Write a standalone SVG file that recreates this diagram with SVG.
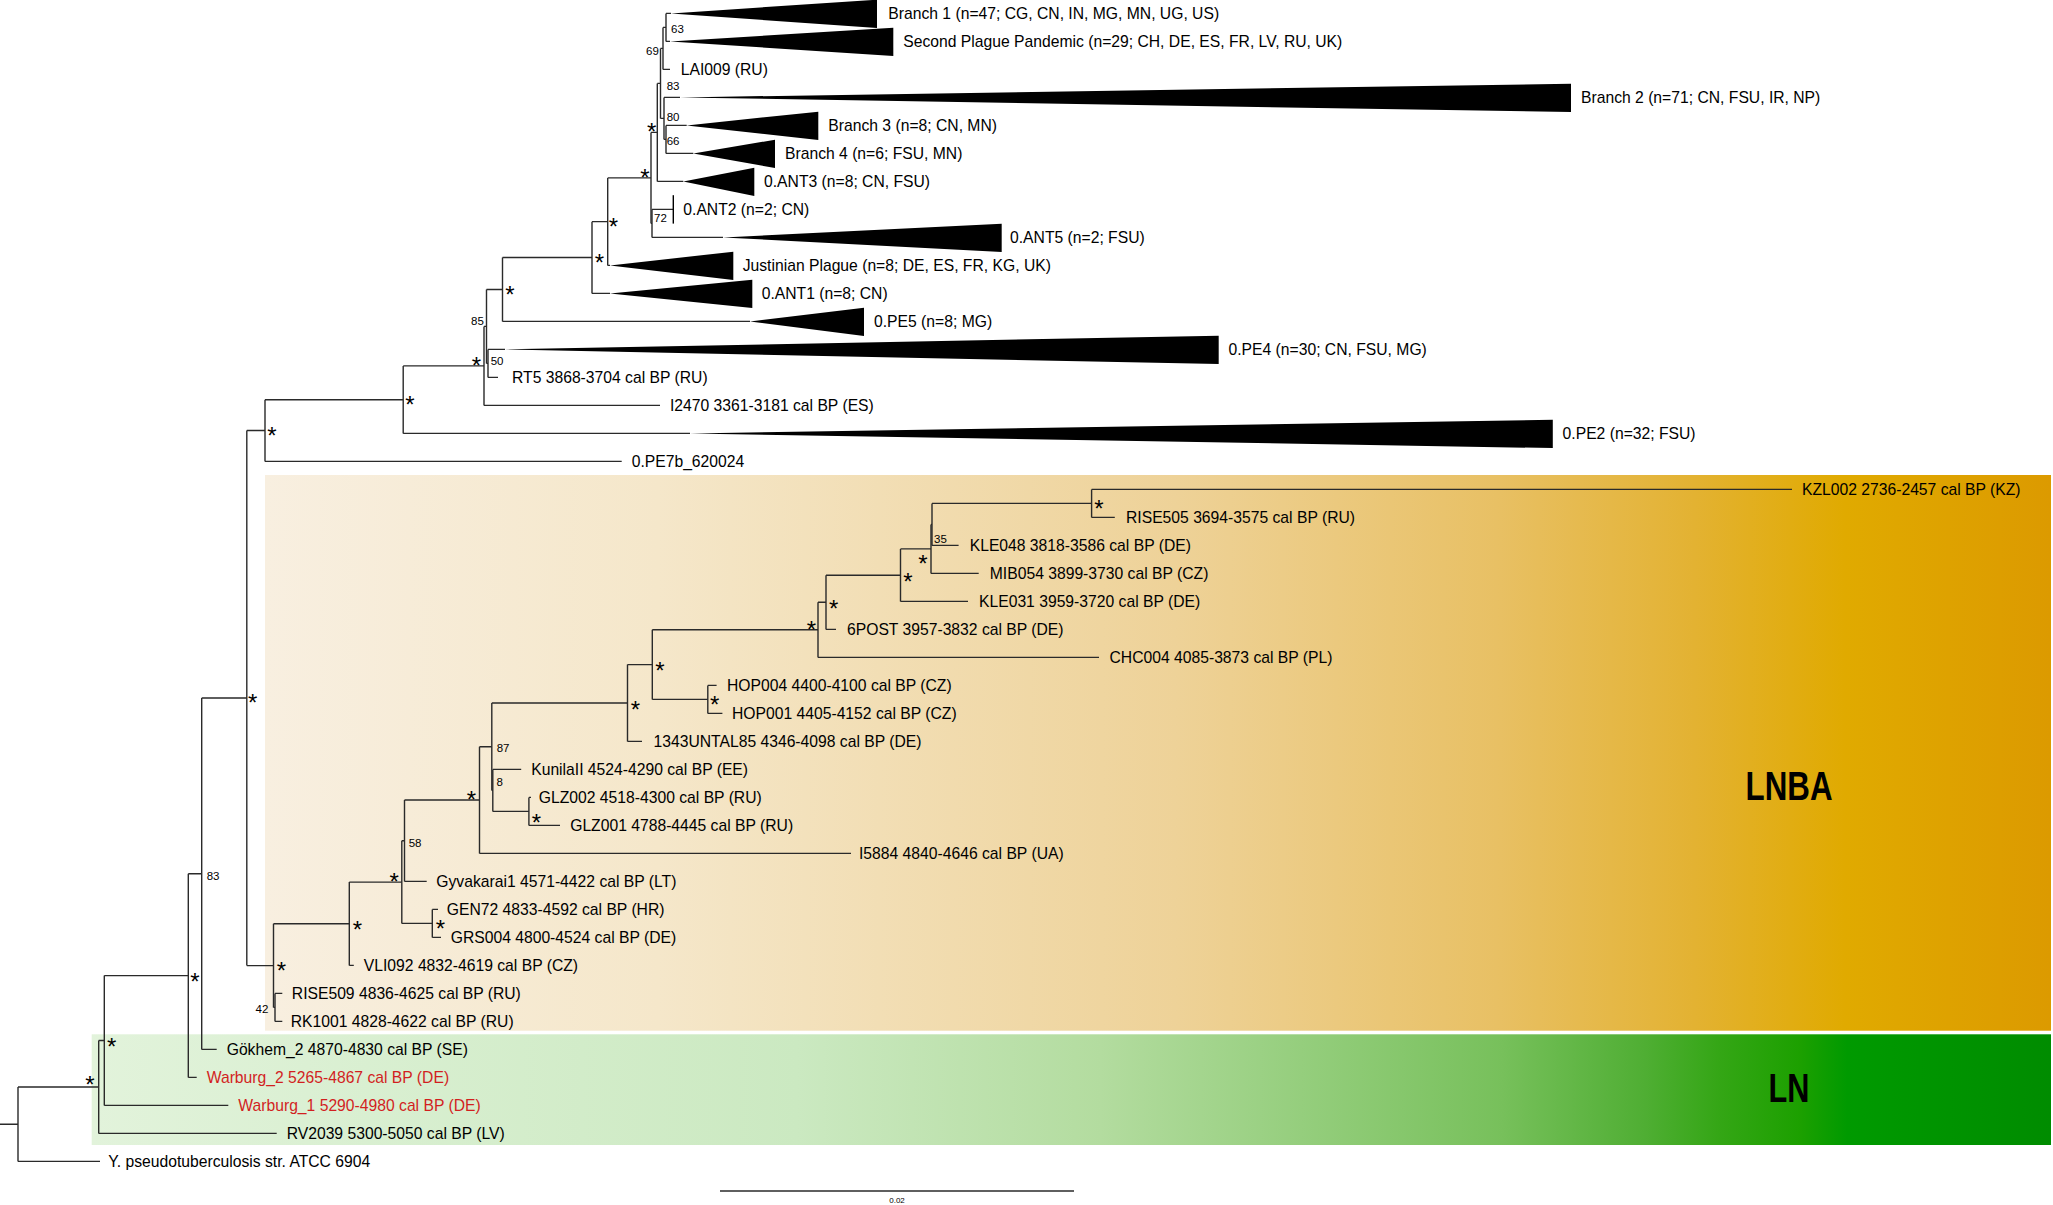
<svg xmlns="http://www.w3.org/2000/svg" width="2053" height="1205" viewBox="0 0 2053 1205">
<defs>
<linearGradient id="gLNBA" x1="0" y1="0" x2="1" y2="0">
<stop offset="0" stop-color="#f8efe0"/>
<stop offset="0.22" stop-color="#f5e7ca"/>
<stop offset="0.51" stop-color="#eed298"/>
<stop offset="0.69" stop-color="#e8c064"/>
<stop offset="0.80" stop-color="#e3b232"/>
<stop offset="0.885" stop-color="#e0aa00"/>
<stop offset="1" stop-color="#dc9a00"/>
</linearGradient>
<linearGradient id="gLN" x1="0" y1="0" x2="1" y2="0">
<stop offset="0" stop-color="#e2f3db"/>
<stop offset="0.36" stop-color="#cbe9c1"/>
<stop offset="0.515" stop-color="#b3dc9f"/>
<stop offset="0.72" stop-color="#77c05b"/>
<stop offset="0.793" stop-color="#4fae33"/>
<stop offset="0.831" stop-color="#34a615"/>
<stop offset="0.872" stop-color="#1ca000"/>
<stop offset="0.896" stop-color="#009a00"/>
<stop offset="1" stop-color="#008c00"/>
</linearGradient>
<style>
text{font-family:"Liberation Sans",Arial,Helvetica,sans-serif;fill:#000}
.t{font-size:15.7px}
.r{fill:#d21f1f}
.n{font-size:11.5px}
.s{font-size:24px;text-anchor:middle}
.b{font-size:40px;font-weight:bold;text-anchor:middle}
.tri{fill:#000;stroke:none}
#connectors path{fill:none;stroke:#2a2a2a;stroke-width:1.4}
</style>
</defs>
<rect x="0" y="0" width="2053" height="1205" fill="#fff"/>
<g id="clade-LNBA">
<rect x="265" y="475" width="1786" height="555.7" fill="url(#gLNBA)"/>
<text class="b" x="1789" y="800" textLength="87" lengthAdjust="spacingAndGlyphs">LNBA</text>
</g>
<g id="clade-LN">
<rect x="91.7" y="1034.3" width="1959.3" height="110.7" fill="url(#gLN)"/>
<text class="b" x="1789" y="1101.7" textLength="41" lengthAdjust="spacingAndGlyphs">LN</text>
</g>

<g id="connectors">
<path d="M0 1124.2H18M18 1087V1161.4M18 1087H98.7M18 1161.4H100"/>
<path d="M98.7 1040.5V1133.4M98.7 1040.5H104.3M98.7 1133.4H276.7"/>
<path d="M104.3 975.6V1105.4M104.3 975.6H188.3M104.3 1105.4H228.3"/>
<path d="M188.3 873.8V1077.4M188.3 873.8H201.7M188.3 1077.4H196.7"/>
<path d="M201.7 698V1049.4M201.7 698H246.8M201.7 1049.4H216.7"/>
<path d="M246.8 430.5V965.6M246.8 430.5H265M246.8 965.6H273.5"/>
<path d="M265 399.7V461.4M265 399.7H403.2M265 461.4H621.7"/>
<path d="M403.2 365.9V433.4M403.2 365.9H484M403.2 433.4H690"/>
<path d="M484 326.4V405.4M484 326.4H486.5M484 405.4H660"/>
<path d="M486.5 289.5V363.4M486.5 289.5H502.5M486.5 363.4H488"/>
<path d="M488 349.4V377.4M488 349.4H505M488 377.4H498"/>
<path d="M502.5 257.5V321.4M502.5 257.5H592M502.5 321.4H750"/>
<path d="M592 221.65V293.4M592 221.65H607.7M592 293.4H610"/>
<path d="M607.7 177.9V265.4M607.7 177.9H651M607.7 265.4H610"/>
<path d="M651 132.4V223.4M651 132.4H657.3M651 223.4H652"/>
<path d="M652 209.4V237.4M652 209.4H673.3M652 237.4H723"/>
<path d="M657.3 83.4V181.4M657.3 83.4H660.5M657.3 181.4H683.3"/>
<path d="M660.5 48.4V118.4M660.5 48.4H663M660.5 118.4H664"/>
<path d="M663 27.4V69.4M663 27.4H666M663 69.4H670"/>
<path d="M666 13.4V41.4M666 13.4H671M666 41.4H670"/>
<path d="M664 97.4V139.4M664 97.4H680M664 139.4H666"/>
<path d="M666 125.4V153.4M666 125.4H686.7M666 153.4H693.3"/>
<path d="M273.5 923.7V1007.4M273.5 923.7H349.3M273.5 1007.4H275"/>
<path d="M275 993.4V1021.4M275 993.4H282.3M275 1021.4H282.3"/>
<path d="M349.3 882.1V965.4M349.3 882.1H401.8M349.3 965.4H353.8"/>
<path d="M401.8 840.7V923.4M401.8 840.7H404.5M401.8 923.4H432.3"/>
<path d="M432.3 909.4V937.4M432.3 909.4H438M432.3 937.4H441"/>
<path d="M404.5 800V881.4M404.5 800H479.5M404.5 881.4H426.7"/>
<path d="M479.5 746.7V853.4M479.5 746.7H491.8M479.5 853.4H851"/>
<path d="M491.8 703V790.4M491.8 703H627.5M491.8 790.4H492.8"/>
<path d="M492.8 769.4V811.4M492.8 769.4H521.2M492.8 811.4H528.9"/>
<path d="M528.9 797.4V825.4M528.9 797.4H531M528.9 825.4H560"/>
<path d="M627.5 664.6V741.4M627.5 664.6H652.3M627.5 741.4H642"/>
<path d="M652.3 629.8V699.4M652.3 629.8H818M652.3 699.4H707.8"/>
<path d="M707.8 685.4V713.4M707.8 685.4H716.6M707.8 713.4H722.4"/>
<path d="M818 602.3V657.4M818 602.3H826M818 657.4H1099"/>
<path d="M826 575.2V629.4M826 575.2H900.5M826 629.4H836"/>
<path d="M900.5 548.9V601.4M900.5 548.9H931M900.5 601.4H968"/>
<path d="M931 524.4V573.4M931 524.4H932M931 573.4H978.7"/>
<path d="M932 503.4V545.4M932 503.4H1091.6M932 545.4H958.6"/>
<path d="M1091.6 489.4V517.4M1091.6 489.4H1792M1091.6 517.4H1114.8"/>
<path d="M720 1191H1074"/>
</g>

<g id="n-branch1"><polygon class="tri" points="671,13.4 877,-0.3 877,28.1"/><text class="t" x="888.3" y="19.1">Branch 1 (n=47; CG, CN, IN, MG, MN, UG, US)</text></g>
<g id="n-spp"><polygon class="tri" points="670,41.4 893.3,27.7 893.3,56.1"/><text class="t" x="903.3" y="47.1">Second Plague Pandemic (n=29; CH, DE, ES, FR, LV, RU, UK)</text></g>
<g id="n-LAI009"><text class="t" x="680.7" y="75.1">LAI009 (RU)</text></g>
<g id="n-branch2"><polygon class="tri" points="680,97.4 1571,83.7 1571,112.1"/><text class="t" x="1581" y="103.1">Branch 2 (n=71; CN, FSU, IR, NP)</text></g>
<g id="n-branch3"><polygon class="tri" points="686.7,125.4 818.3,111.7 818.3,140.1"/><text class="t" x="828.3" y="131.1">Branch 3 (n=8; CN, MN)</text></g>
<g id="n-branch4"><polygon class="tri" points="693.3,153.4 775,139.7 775,168.1"/><text class="t" x="785" y="159.1">Branch 4 (n=6; FSU, MN)</text></g>
<g id="n-ANT3"><polygon class="tri" points="683.3,181.4 754.3,167.7 754.3,196.1"/><text class="t" x="764" y="187.1">0.ANT3 (n=8; CN, FSU)</text></g>
<g id="n-ANT2"><rect class="tri" x="672.6" y="195.2" width="1.4" height="28.4"/><text class="t" x="683.3" y="215.1">0.ANT2 (n=2; CN)</text></g>
<g id="n-ANT5"><polygon class="tri" points="723,237.4 1001.7,223.7 1001.7,252.1"/><text class="t" x="1010" y="243.1">0.ANT5 (n=2; FSU)</text></g>
<g id="n-justinian"><polygon class="tri" points="610,265.4 733.3,251.7 733.3,280.1"/><text class="t" x="742.7" y="271.1">Justinian Plague (n=8; DE, ES, FR, KG, UK)</text></g>
<g id="n-ANT1"><polygon class="tri" points="610,293.4 752.3,279.7 752.3,308.1"/><text class="t" x="761.7" y="299.1">0.ANT1 (n=8; CN)</text></g>
<g id="n-PE5"><polygon class="tri" points="750,321.4 864,307.7 864,336.1"/><text class="t" x="874" y="327.1">0.PE5 (n=8; MG)</text></g>
<g id="n-PE4"><polygon class="tri" points="505,349.4 1218.7,335.7 1218.7,364.1"/><text class="t" x="1228.5" y="355.1">0.PE4 (n=30; CN, FSU, MG)</text></g>
<g id="n-RT5"><text class="t" x="512" y="383.1">RT5 3868-3704 cal BP (RU)</text></g>
<g id="n-I2470"><text class="t" x="670" y="411.1">I2470 3361-3181 cal BP (ES)</text></g>
<g id="n-PE2"><polygon class="tri" points="690,433.4 1552.8,419.7 1552.8,448.1"/><text class="t" x="1562.6" y="439.1">0.PE2 (n=32; FSU)</text></g>
<g id="n-PE7b"><text class="t" x="631.7" y="467.1">0.PE7b_620024</text></g>
<g id="n-KZL002"><text class="t" x="1802" y="495.1">KZL002 2736-2457 cal BP (KZ)</text></g>
<g id="n-RISE505"><text class="t" x="1126" y="523.1">RISE505 3694-3575 cal BP (RU)</text></g>
<g id="n-KLE048"><text class="t" x="969.7" y="551.1">KLE048 3818-3586 cal BP (DE)</text></g>
<g id="n-MIB054"><text class="t" x="989.8" y="579.1">MIB054 3899-3730 cal BP (CZ)</text></g>
<g id="n-KLE031"><text class="t" x="979" y="607.1">KLE031 3959-3720 cal BP (DE)</text></g>
<g id="n-6POST"><text class="t" x="847" y="635.1">6POST 3957-3832 cal BP (DE)</text></g>
<g id="n-CHC004"><text class="t" x="1109.5" y="663.1">CHC004 4085-3873 cal BP (PL)</text></g>
<g id="n-HOP004"><text class="t" x="727" y="691.1">HOP004 4400-4100 cal BP (CZ)</text></g>
<g id="n-HOP001"><text class="t" x="732" y="719.1">HOP001 4405-4152 cal BP (CZ)</text></g>
<g id="n-1343UNTAL85"><text class="t" x="653.5" y="747.1">1343UNTAL85 4346-4098 cal BP (DE)</text></g>
<g id="n-KunilaII"><text class="t" x="531.2" y="775.1">KunilaII 4524-4290 cal BP (EE)</text></g>
<g id="n-GLZ002"><text class="t" x="538.8" y="803.1">GLZ002 4518-4300 cal BP (RU)</text></g>
<g id="n-GLZ001"><text class="t" x="570.2" y="831.1">GLZ001 4788-4445 cal BP (RU)</text></g>
<g id="n-I5884"><text class="t" x="859" y="859.1">I5884 4840-4646 cal BP (UA)</text></g>
<g id="n-Gyvakarai1"><text class="t" x="436.3" y="887.1">Gyvakarai1 4571-4422 cal BP (LT)</text></g>
<g id="n-GEN72"><text class="t" x="446.8" y="915.1">GEN72 4833-4592 cal BP (HR)</text></g>
<g id="n-GRS004"><text class="t" x="450.7" y="943.1">GRS004 4800-4524 cal BP (DE)</text></g>
<g id="n-VLI092"><text class="t" x="363.8" y="971.1">VLI092 4832-4619 cal BP (CZ)</text></g>
<g id="n-RISE509"><text class="t" x="291.8" y="999.1">RISE509 4836-4625 cal BP (RU)</text></g>
<g id="n-RK1001"><text class="t" x="290.7" y="1027.1">RK1001 4828-4622 cal BP (RU)</text></g>
<g id="n-Gokhem2"><text class="t" x="226.7" y="1055.1">Gökhem_2 4870-4830 cal BP (SE)</text></g>
<g id="n-Warburg2"><text class="t r" x="206.7" y="1083.1">Warburg_2 5265-4867 cal BP (DE)</text></g>
<g id="n-Warburg1"><text class="t r" x="238.3" y="1111.1">Warburg_1 5290-4980 cal BP (DE)</text></g>
<g id="n-RV2039"><text class="t" x="286.7" y="1139.1">RV2039 5300-5050 cal BP (LV)</text></g>
<g id="n-Ypseudo"><text class="t" x="108.3" y="1167.1">Y. pseudotuberculosis str. ATCC 6904</text></g>

<g id="support-labels">
<text class="n" x="671" y="33">63</text>
<text class="n" x="646" y="55">69</text>
<text class="n" x="666.7" y="90">83</text>
<text class="n" x="666.7" y="121">80</text>
<text class="n" x="666.7" y="145">66</text>
<text class="n" x="654" y="222">72</text>
<text class="n" x="471" y="325">85</text>
<text class="n" x="490.7" y="365">50</text>
<text class="n" x="934" y="543">35</text>
<text class="n" x="496.7" y="752">87</text>
<text class="n" x="496.4" y="786">8</text>
<text class="n" x="408.7" y="847">58</text>
<text class="n" x="206.7" y="880">83</text>
<text class="n" x="255.5" y="1013">42</text>
<text class="s" x="90" y="1093.4">*</text>
<text class="s" x="111.7" y="1055.1">*</text>
<text class="s" x="195" y="990.1">*</text>
<text class="s" x="252.6" y="711.4">*</text>
<text class="s" x="281.3" y="979.4">*</text>
<text class="s" x="272" y="444.4">*</text>
<text class="s" x="410" y="413.4">*</text>
<text class="s" x="476.4" y="374.1">*</text>
<text class="s" x="510" y="303.4">*</text>
<text class="s" x="599.5" y="271.4">*</text>
<text class="s" x="613.3" y="235.1">*</text>
<text class="s" x="645" y="186.1">*</text>
<text class="s" x="651.7" y="140.1">*</text>
<text class="s" x="1099" y="516.7">*</text>
<text class="s" x="922.9" y="571.7">*</text>
<text class="s" x="908" y="590.1">*</text>
<text class="s" x="833.6" y="617.4">*</text>
<text class="s" x="811.3" y="637.7">*</text>
<text class="s" x="660" y="679.1">*</text>
<text class="s" x="635.5" y="718.4">*</text>
<text class="s" x="714.7" y="713.4">*</text>
<text class="s" x="536.5" y="830.7">*</text>
<text class="s" x="471.5" y="807.7">*</text>
<text class="s" x="394.2" y="890.1">*</text>
<text class="s" x="440.3" y="936.7">*</text>
<text class="s" x="357.3" y="938.4">*</text>
</g>
<g id="scale-bar"><text x="897" y="1203" font-size="8" text-anchor="middle">0.02</text></g>
</svg>
